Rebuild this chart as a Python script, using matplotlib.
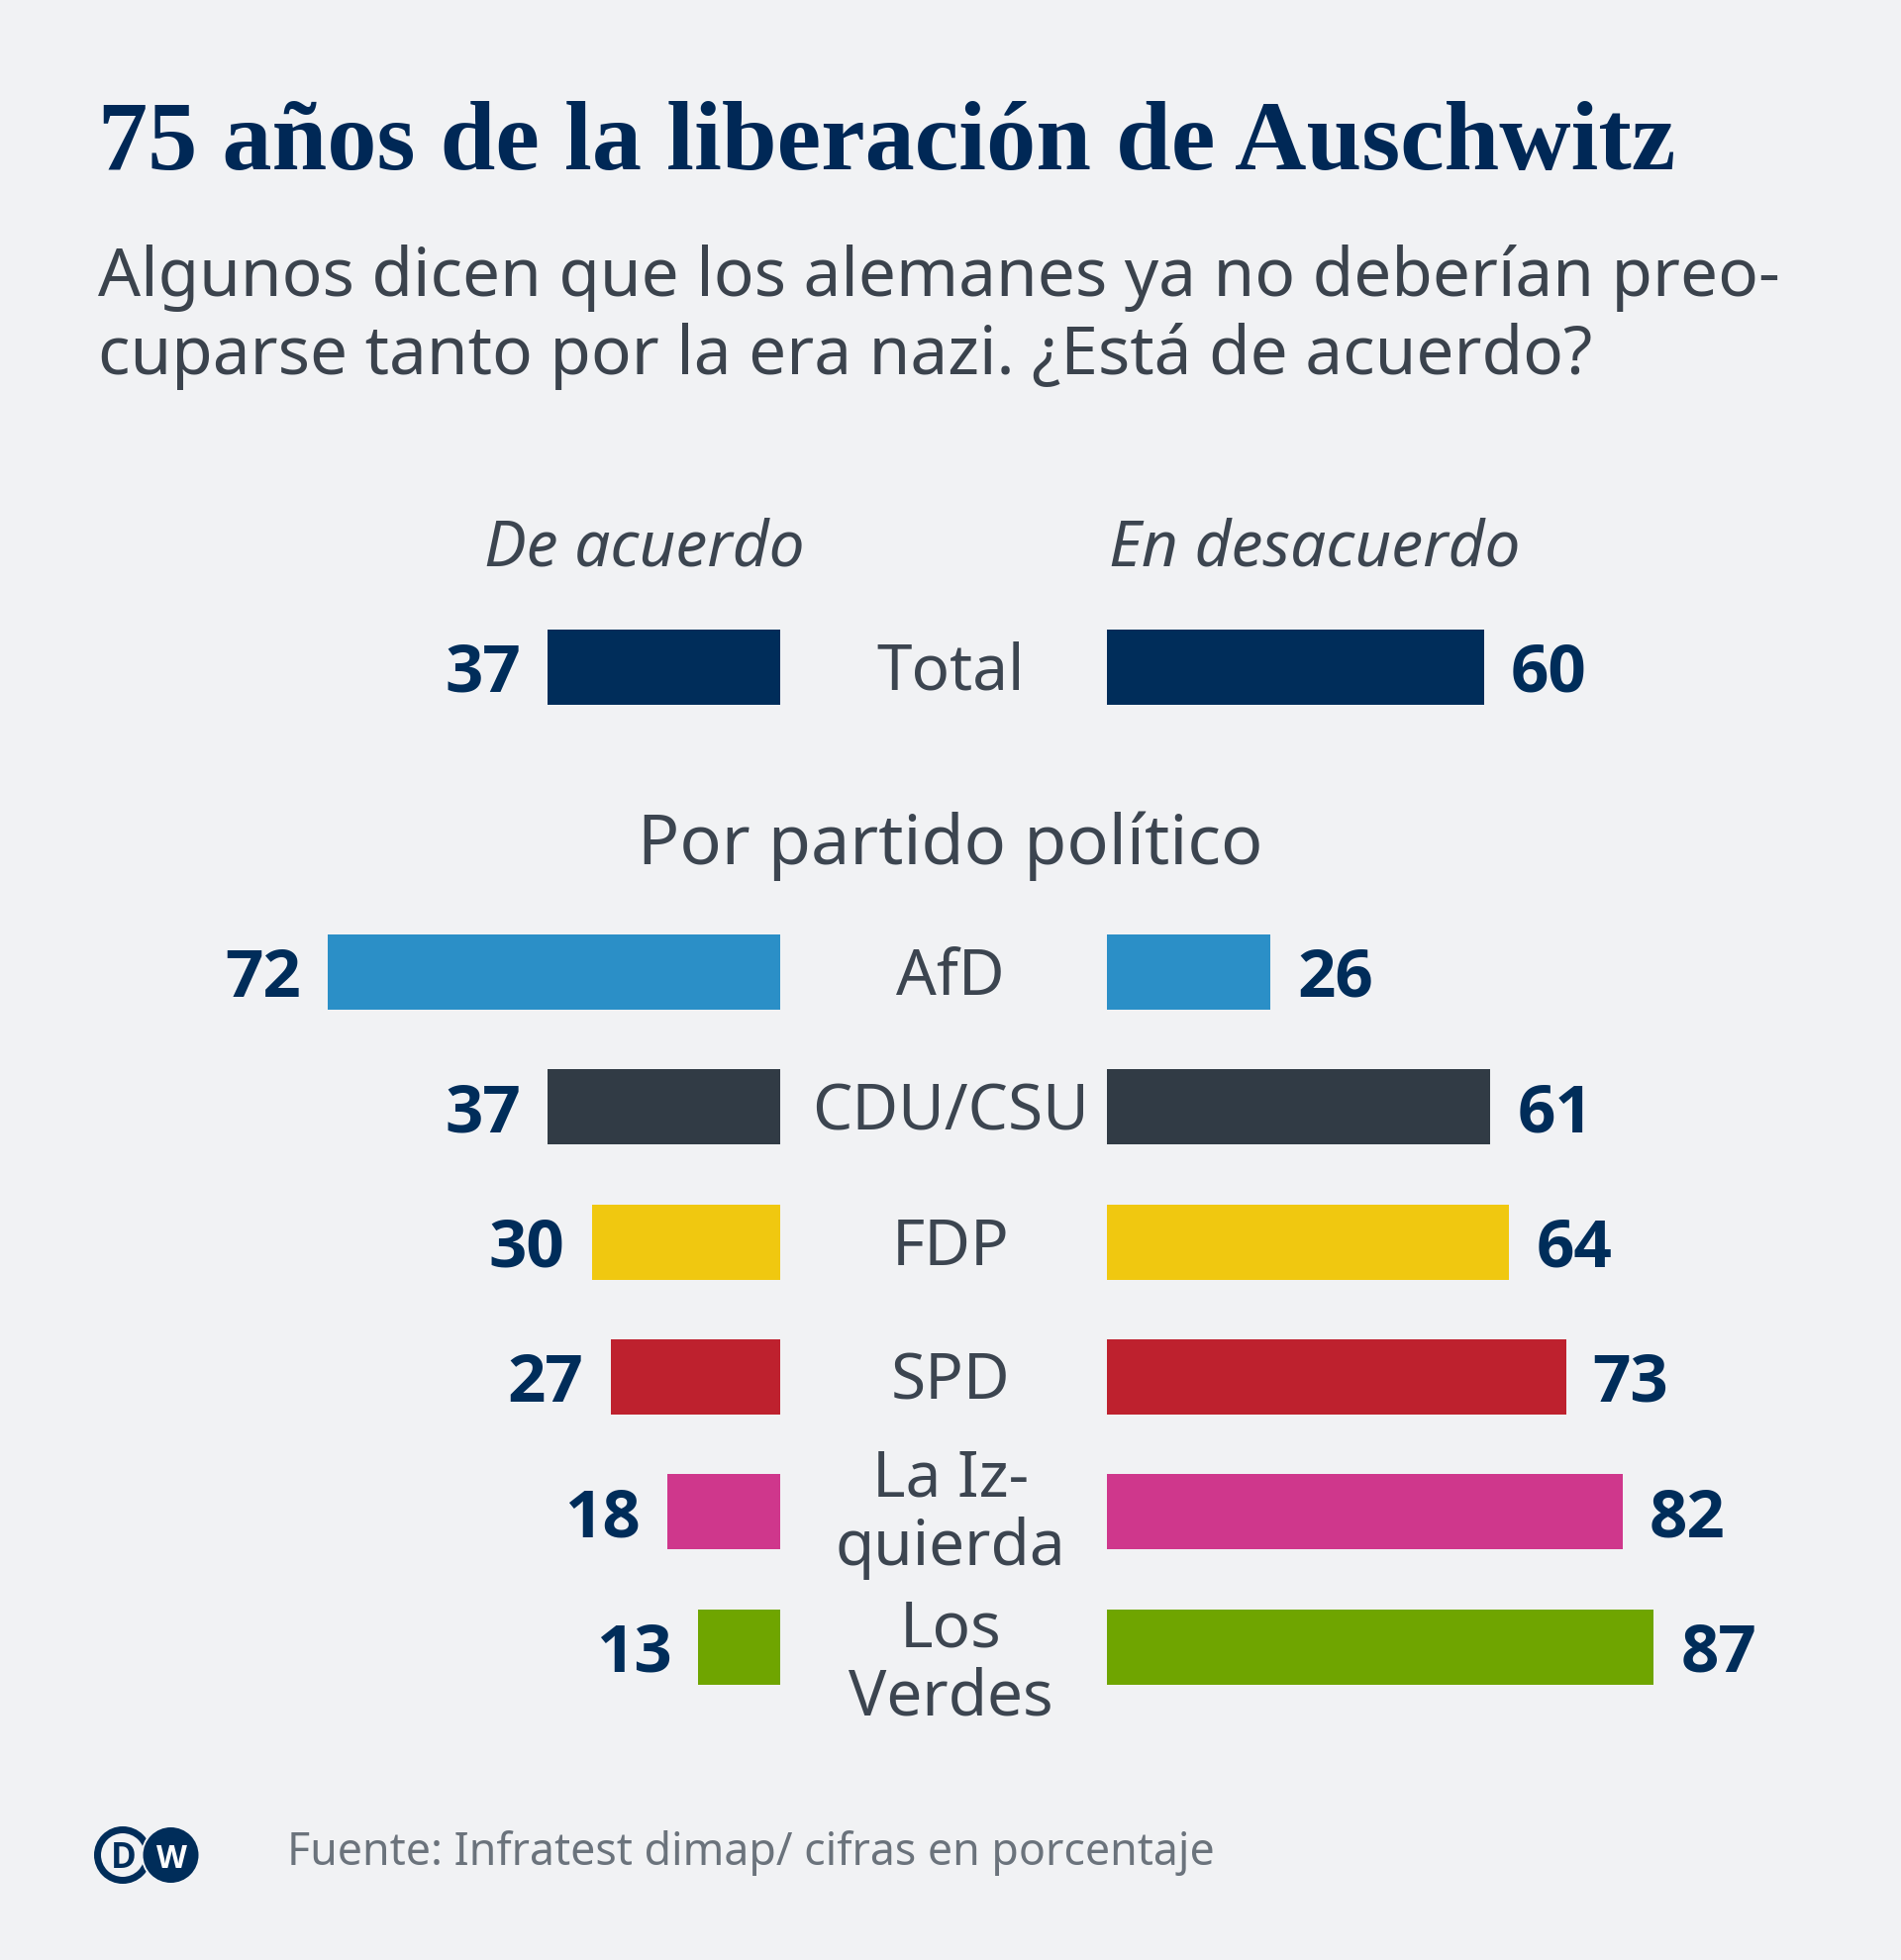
import os
import matplotlib
matplotlib.use("Agg")
import matplotlib.pyplot as plt
from matplotlib.patches import Circle
from matplotlib import font_manager as fm
import matplotlib.transforms as mtransforms

# ---------------- data ----------------
categories = ["Total", "AfD", "CDU/CSU", "FDP", "SPD", "La Iz-\nquierda", "Los\nVerdes"]
agree = [37, 72, 37, 30, 27, 18, 13]
disagree = [60, 26, 61, 64, 73, 82, 87]
colors = ["#002d5a", "#2b8fc7", "#313b45", "#f0c810", "#be212e", "#cf378c", "#6fa500"]

title = "75 años de la liberación de Auschwitz"
subtitle_lines = ["Algunos dicen que los alemanes ya no deberían preo-",
                  "cuparse tanto por la era nazi. ¿Está de acuerdo?"]
left_header = "De acuerdo"
right_header = "En desacuerdo"
group_header = "Por partido político"
source = "Fuente: Infratest dimap/ cifras en porcentaje"

# ---------------- style ----------------
W, H, DPI = 1920, 1981, 100
BG = "#f1f2f4"
NAVY = "#002d5a"
TEXT = "#3c4550"
GREY = "#6b737c"
PT = 72 / DPI  # points per pixel


def bold_props(size):
    """Find a sans family with a real bold face file."""
    for fam in ["Noto Sans", "Open Sans", "Lato", "Roboto", "Inter", "DejaVu Sans"]:
        try:
            path = fm.findfont(fm.FontProperties(family=fam, weight="bold"), fallback_to_default=False)
        except Exception:
            continue
        base = os.path.basename(path).lower()
        if "bold" in base and "italic" not in base and "oblique" not in base:
            return fm.FontProperties(fname=path, size=size)
    return fm.FontProperties(family="DejaVu Sans", weight="bold", size=size)


fig = plt.figure(figsize=(W / DPI, H / DPI), dpi=DPI, facecolor=BG)


def fx(px):
    return px / W


def fy(py):
    return 1 - py / H


# ---------------- layout ----------------
row_px = 136.3
total_center_px = 675
first_party_px = 983
bar_px = 76
ax_top_px, ax_bot_px = 600, 1740
unit_px = 6.35
left_end_px, right_start_px = 788, 1118
ax_width_px = 688

ypos = [0.0] + [(first_party_px - total_center_px) / row_px + i for i in range(len(categories) - 1)]
ylim = ((ax_bot_px - total_center_px) / row_px, (ax_top_px - total_center_px) / row_px)
xmax = ax_width_px / unit_px

axL = fig.add_axes([fx(left_end_px - ax_width_px), fy(ax_bot_px), ax_width_px / W, (ax_bot_px - ax_top_px) / H])
axR = fig.add_axes([fx(right_start_px), fy(ax_bot_px), ax_width_px / W, (ax_bot_px - ax_top_px) / H])
for ax in (axL, axR):
    ax.set_ylim(*ylim)
    ax.axis("off")
    ax.patch.set_alpha(0)
axL.set_xlim(xmax, 0)
axR.set_xlim(0, xmax)

bh = bar_px / row_px
axL.barh(ypos, agree, height=bh, color=colors)
axR.barh(ypos, disagree, height=bh, color=colors)

# value labels
num_fp = bold_props(48.4)
gap_pt = 27 * PT
base_pt = -24 * PT
for y, v in zip(ypos, agree):
    axL.annotate(str(v), xy=(v, y), xytext=(-gap_pt, base_pt), textcoords="offset points",
                 ha="right", va="baseline", fontproperties=num_fp, color=NAVY)
for y, v in zip(ypos, disagree):
    axR.annotate(str(v), xy=(v, y), xytext=(gap_pt, base_pt), textcoords="offset points",
                 ha="left", va="baseline", fontproperties=num_fp, color=NAVY)

# category labels in the middle (last-line baseline offset below bar centre, px)
last_baseline_px = {"La Iz-\nquierda": 53, "Los\nVerdes": 68}
blend = mtransforms.blended_transform_factory(fig.transFigure, axL.transData)
cat_font = dict(family="Noto Sans", size=46, color=TEXT)
for y, lab in zip(ypos, categories):
    off = last_baseline_px.get(lab, 22)
    axL.annotate(lab, xy=(fx(960), y), xycoords=blend, xytext=(0, -off * PT), textcoords="offset points",
                 ha="center", va="baseline", linespacing=1.11, multialignment="center", **cat_font)

# headers
hdr_font = dict(family="Noto Sans", style="italic", size=46, color=TEXT)
fig.text(fx(651), fy(571), left_header, ha="center", va="baseline", **hdr_font)
fig.text(fx(1328), fy(571), right_header, ha="center", va="baseline", **hdr_font)
fig.text(fx(960), fy(873), group_header, ha="center", va="baseline",
         family="Noto Sans", size=50.4, color=TEXT)

# title (fit to width)
t = fig.text(fx(99), fy(171), title, ha="left", va="baseline",
             family="Liberation Serif", weight="bold", size=68, color="#002856")
renderer = fig.canvas.get_renderer()
w = t.get_window_extent(renderer).width
t.set_fontsize(68 * 1593 / w)

# subtitle
for i, line in enumerate(subtitle_lines):
    fig.text(fx(99), fy(299 + 79 * i), line, ha="left", va="baseline",
             family="Noto Sans", size=48.6, color="#3b434d")

# footer
fig.text(fx(290), fy(1884), source, ha="left", va="baseline",
         family="Noto Sans", size=32.2, color=GREY)

# DW logo
axO = fig.add_axes([0, 0, 1, 1])
axO.set_xlim(0, W)
axO.set_ylim(H, 0)
axO.axis("off")
axO.patch.set_alpha(0)
axO.add_patch(Circle((124, 1875), 25.5, facecolor=BG, edgecolor=NAVY, linewidth=7 * PT))
axO.add_patch(Circle((172.5, 1875), 29, facecolor=NAVY, edgecolor=BG, linewidth=2 * PT))
axO.text(124.5, 1887.5, "D", ha="center", va="baseline", fontproperties=bold_props(25), color=NAVY)
axO.text(173, 1887.5, "W", ha="center", va="baseline", fontproperties=bold_props(23), color="white")

fig.savefig("out.png", dpi=DPI, facecolor=BG)
